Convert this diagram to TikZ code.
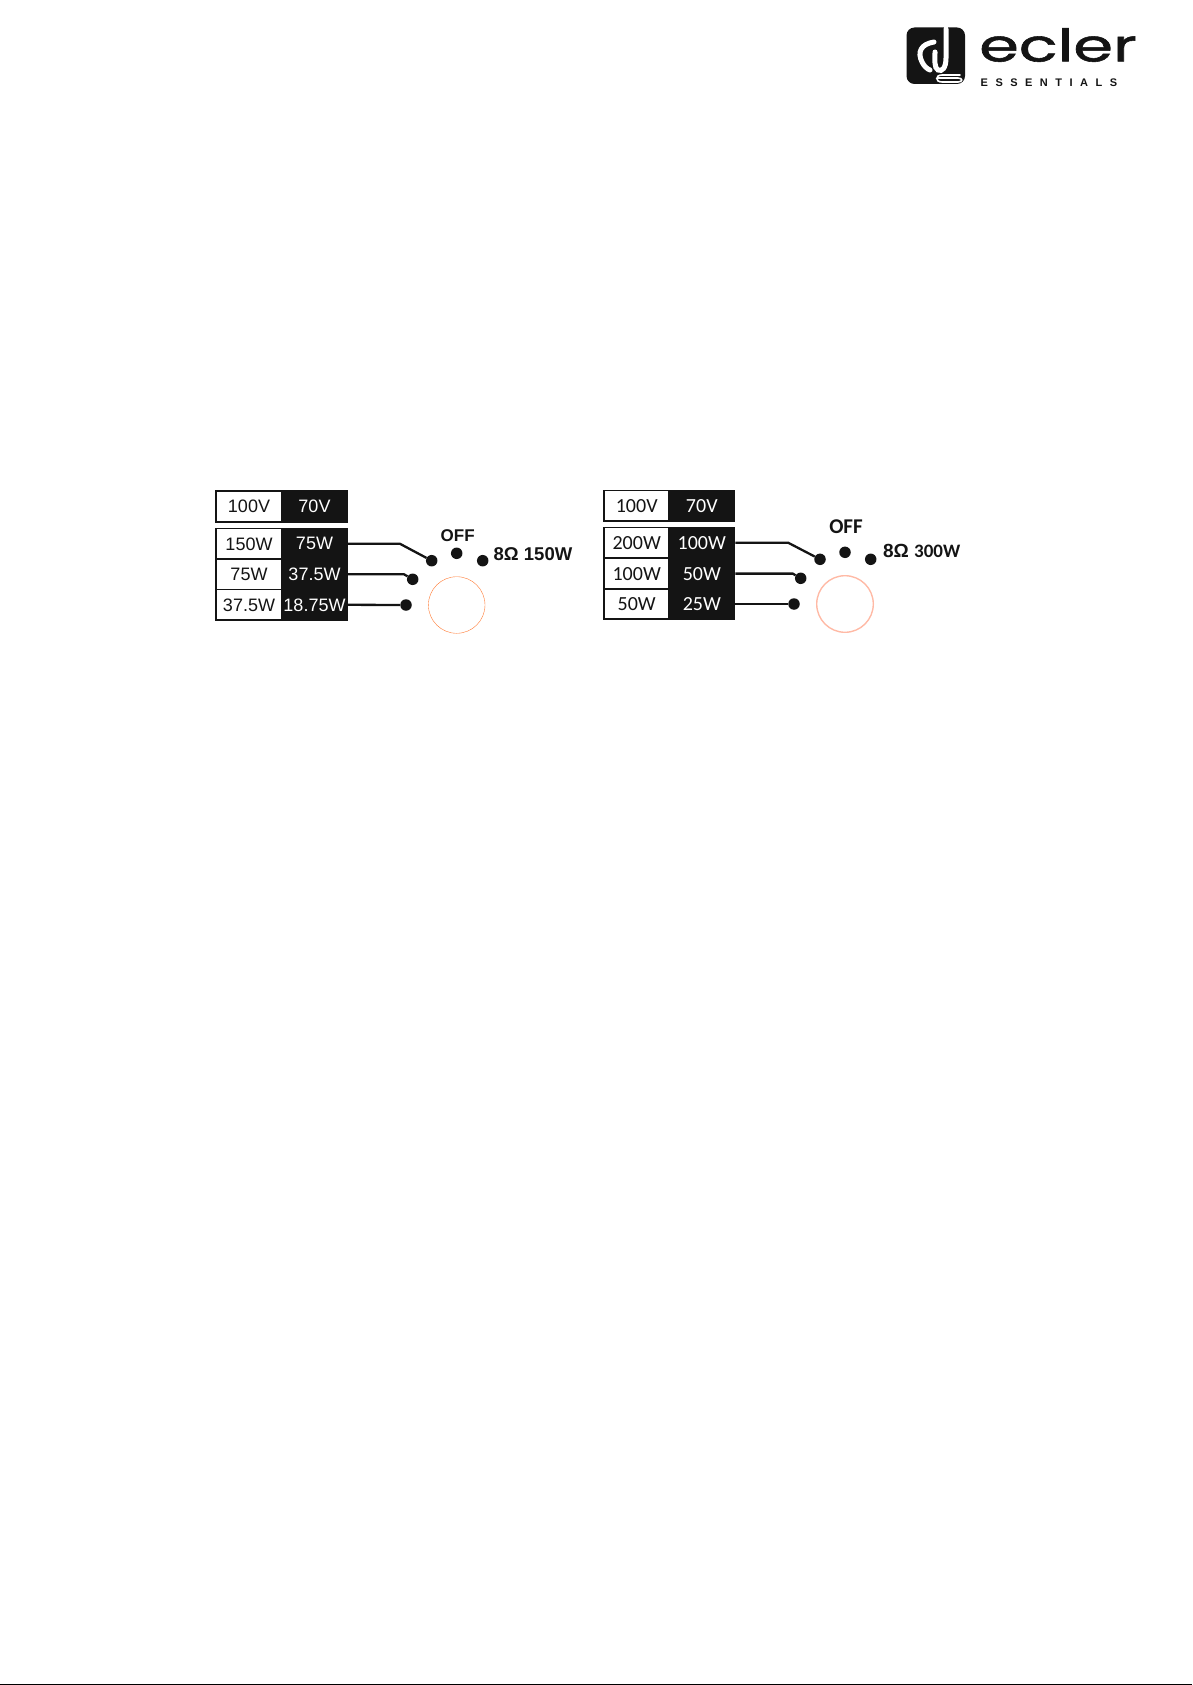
\documentclass[tikz,border=0pt]{standalone}
\usepackage{fontspec}
\usepackage{tikz}
\setmainfont{Liberation Sans}
\newfontfamily\calibrifont{Carlito}
\newfontfamily\logofont[LetterSpace=68]{Liberation Sans}
\newfontfamily\wordfont[FakeBold=1.2]{Poppins}
\definecolor{cellblack}{HTML}{141414}
\tikzset{
    cellw/.style={draw=cellblack, line width=1.6pt, fill=white, text=cellblack, minimum width=65.5pt, minimum height=30.5pt, inner sep=0pt},
    cellb/.style={cellw, fill=cellblack, text=white},
    wire/.style={cellblack, line width=2.3pt},
    contact/.style={circle, fill=cellblack, minimum size=11.5pt, inner sep=0pt},
    knob/.style={circle, draw=#1, minimum size=56.6pt, inner sep=0pt},
    logoline/.style={white, line width=5pt, line cap=round}
}

\begin{document}
\begin{tikzpicture}[x=1pt, y=-1pt]
        \useasboundingbox (0,0) rectangle (1192,1685);
        \fill [black] (0,1684) rectangle (1192,1685);

        % logo
        \fill [cellblack, rounded corners=8pt] (906.5,27.5) rectangle (965,84);
        \draw [logoline] (934,42) .. controls (921,44) and (917,52) .. (922,62) .. controls (924,66) and (927,69) .. (930,70);
        \draw [logoline] (946,29) -- (946,58) .. controls (946,68) and (942,72) .. (938,70) .. controls (934,68) and (935,60) .. (935,52);
        \draw [white, line width=1.6pt, line cap=round] (960,75) -- (942,75) .. controls (935,75) and (935,82) .. (942,82) -- (958,82) .. controls (963,82) and (963,78) .. (958,78) -- (938,78);
        \node [anchor=center, xscale=1.42, font=\wordfont\fontsize{45}{45}\selectfont, text=cellblack] (wordmark) at (1058,45) {ecler};
        \node [anchor=west, inner sep=0pt, font=\logofont\bfseries\fontsize{11}{11}\selectfont, text=cellblack] (essentials) at (980.5,83) {ESSENTIALS};

        % left table
        \begin{scope}[font=\fontsize{18}{18}\selectfont]
        \node [cellw] (ltop) at (249,506.5) {100V};
        \node [cellb] (rtop) at (314.5,506.5) {70V};
        \node [cellw] (lone) at (249,543.8) {150W};
        \node [cellb] (rone) at (314.5,543.8) {75W};
        \node [cellw] (ltwo) at (249,574.3) {75W};
        \node [cellb] (rtwo) at (314.5,574.3) {37.5W};
        \node [cellw] (lthree) at (249,604.8) {37.5W};
        \node [cellb] (rthree) at (314.5,604.8) {18.75W};
        \end{scope}
        \node [contact] (dotone) at (431.7,560.7) {};
        \node [contact] (dottwo) at (412.7,579.3) {};
        \node [contact] (dotthree) at (406,605) {};
        \node [contact] (dotoff) at (456.7,553.3) {};
        \node [contact] (dotload) at (482.7,560.7) {};
        \draw [wire] (rone.east) -- (400,543.8) -- (dotone);
        \draw [wire] (rtwo.east) -- (404,574.3) -- (dottwo);
        \draw [wire] (rthree.east) -- (dotthree);
        \node [knob={orange!70!red!80!white}] (knobl) at (456.7,605) {};
        \node [font=\bfseries\fontsize{17}{17}\selectfont, text=cellblack] (offl) at (457.7,535.7) {OFF};
        \node [font=\bfseries\fontsize{18.5}{18.5}\selectfont, text=cellblack] (loadl) at (533,554) {8Ω 150W};

        % right table
        \begin{scope}[font=\calibrifont\fontsize{20}{20}\selectfont]
        \node [cellw] (ltopr) at (636.7,505.8) {100V};
        \node [cellb] (rtopr) at (701.8,505.8) {70V};
        \node [cellw] (loner) at (636.7,542.8) {200W};
        \node [cellb] (roner) at (701.8,542.8) {100W};
        \node [cellw] (ltwor) at (636.7,573.6) {100W};
        \node [cellb] (rtwor) at (701.8,573.6) {50W};
        \node [cellw] (lthreer) at (636.7,604) {50W};
        \node [cellb] (rthreer) at (701.8,604) {25W};
        \end{scope}
        \node [contact] (dotoner) at (820,559.3) {};
        \node [contact] (dottwor) at (800.7,578.3) {};
        \node [contact] (dotthreer) at (794,604) {};
        \node [contact] (dotoffr) at (845,552.3) {};
        \node [contact] (dotloadr) at (870.7,559.3) {};
        \draw [wire] (roner.east) -- (788.3,542.8) -- (dotoner);
        \draw [wire] (rtwor.east) -- (792.7,573.6) -- (dottwor);
        \draw [wire] (rthreer.east) -- (dotthreer);
        \node [knob={orange!45!red!35!white}, line width=1.4pt] (knobr) at (845,604) {};
        \node [font=\calibrifont\bfseries\fontsize{21}{21}\selectfont, text=cellblack] (offr) at (846,526.7) {OFF};
        \node [font=\bfseries\fontsize{19}{19}\selectfont, text=cellblack] (loadr) at (921.7,551) {8Ω {\calibrifont 300W}};
    \end{tikzpicture}
\end{document}
